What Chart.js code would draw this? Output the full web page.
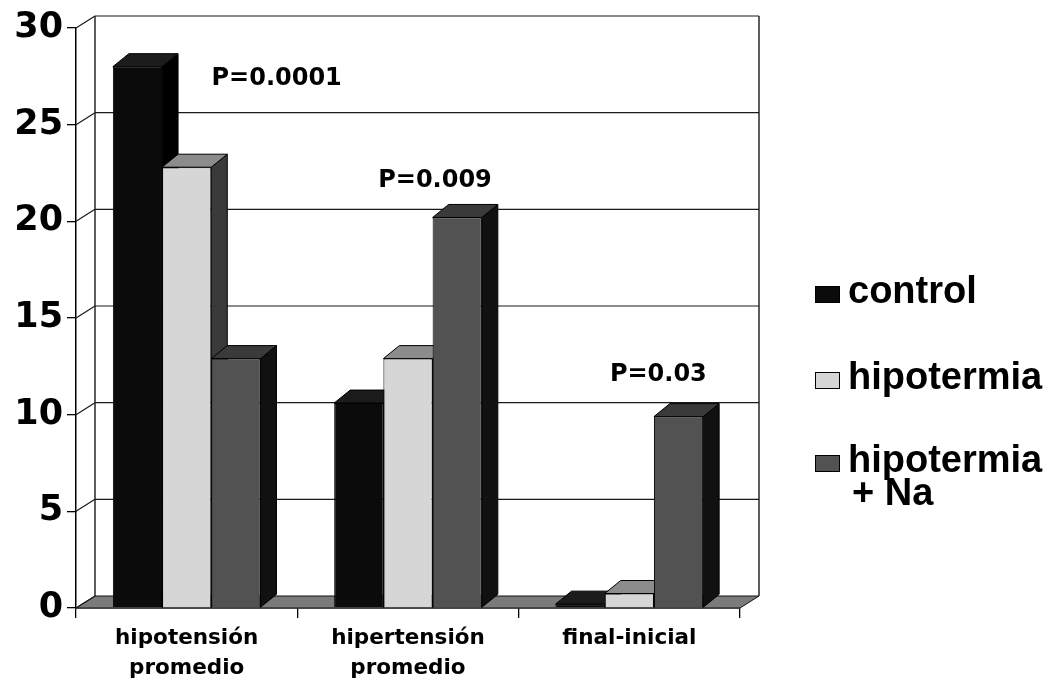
<!DOCTYPE html>
<html>
<head>
<meta charset="utf-8">
<script src="https://cdn.jsdelivr.net/npm/chart.js@4.4.1/dist/chart.umd.min.js"></script>
<style>
  html, body { margin: 0; padding: 0; background: #fff; }
  #wrap { width: 1050px; height: 680px; }
</style>
</head>
<body>
<div id="wrap"><canvas id="c" width="1050" height="680"></canvas></div>
<script>
// Categories and series
const categories = [['hipotensión', 'promedio'], ['hipertensión', 'promedio'], ['final-inicial']];
const seriesNames = ['control', 'hipotermia', 'hipotermia + Na'];
const controlValues = [28, 10.6, 0.2];
const hipotermiaValues = [22.8, 12.9, 0.75];
const hipotermiaNaValues = [12.9, 20.2, 9.9];
const pLabels = ['P=0.0001', 'P=0.009', 'P=0.03'];
const yMin = 0, yMax = 30, yStep = 5;

// Face colours per series: front, top, side
const faceColors = [
  { front: '#0b0b0b', top: '#1c1c1c', side: '#000000' },
  { front: '#d6d6d6', top: '#8c8c8c', side: '#3a3a3a' },
  { front: '#525252', top: '#3a3a3a', side: '#111111' }
];

// Depth offsets for the box walls and the columns
const WALL_DX = 19, WALL_DY = -12;
const BAR_DX = 16, BAR_DY = -13;

function poly(ctx, pts, fill, stroke) {
  ctx.beginPath();
  ctx.moveTo(pts[0][0], pts[0][1]);
  for (let i = 1; i < pts.length; i++) ctx.lineTo(pts[i][0], pts[i][1]);
  ctx.closePath();
  if (fill) { ctx.fillStyle = fill; ctx.fill(); }
  if (stroke) { ctx.strokeStyle = stroke; ctx.lineWidth = 1; ctx.stroke(); }
}

const depthPlugin = {
  id: 'depth3d',
  beforeDatasetsDraw(chart) {
    const { ctx, chartArea, scales } = chart;
    const { left, right, top, bottom } = chartArea;
    const y = scales.y;
    ctx.save();
    // floor
    poly(ctx, [[left, bottom], [right, bottom], [right + WALL_DX, bottom + WALL_DY], [left + WALL_DX, bottom + WALL_DY]], '#7b7b7b', '#111');
    // back wall grid lines and side-wall connectors
    ctx.strokeStyle = '#1a1a1a';
    ctx.lineWidth = 1.2;
    y.ticks.forEach(t => {
      const py = y.getPixelForValue(t.value);
      ctx.beginPath();
      if (t.value !== yMin) {
        ctx.moveTo(left + WALL_DX, py + WALL_DY);
        ctx.lineTo(right + WALL_DX, py + WALL_DY);
      }
      ctx.moveTo(left, py);
      ctx.lineTo(left + WALL_DX, py + WALL_DY);
      ctx.stroke();
    });
    // back wall edges
    ctx.lineWidth = 1.4;
    ctx.beginPath();
    ctx.moveTo(left + WALL_DX, top + WALL_DY);
    ctx.lineTo(left + WALL_DX, bottom + WALL_DY);
    ctx.moveTo(right + WALL_DX, top + WALL_DY);
    ctx.lineTo(right + WALL_DX, bottom + WALL_DY);
    ctx.stroke();

    // column tops and sides, drawn left to right so later fronts overlap
    const items = [];
    chart.data.datasets.forEach((ds, di) => {
      chart.getDatasetMeta(di).data.forEach(el => items.push({ el, di }));
    });
    items.sort((a, b) => a.el.x - b.el.x);
    items.forEach(({ el, di }) => {
      const w = el.width;
      const l = el.x - w / 2, r = el.x + w / 2;
      const ty = el.y, by = el.base;
      const c = faceColors[di];
      poly(ctx, [[r, ty], [r + BAR_DX, ty + BAR_DY], [r + BAR_DX, by + BAR_DY], [r, by]], c.side, '#000');
      poly(ctx, [[l, ty], [l + BAR_DX, ty + BAR_DY], [r + BAR_DX, ty + BAR_DY], [r, ty]], c.top, '#000');
    });
    ctx.restore();
  },
  afterDraw(chart) {
    const { ctx, scales } = chart;
    const x = scales.x, y = scales.y;
    ctx.save();
    // significance labels above each group
    const pOffsets = [[90, 27.4], [27, 22.1], [29, 12.05]];
    ctx.font = 'bold 24px "DejaVu Sans"';
    ctx.fillStyle = '#000';
    ctx.textAlign = 'center';
    ctx.textBaseline = 'middle';
    pLabels.forEach((txt, i) => {
      const px = x.getPixelForValue(i) + pOffsets[i][0];
      const py = y.getPixelForValue(pOffsets[i][1]);
      ctx.fillText(txt, px, py);
    });

    // legend on the right
    const boxX = 815, boxW = 25, boxH = 17, textX = 848;
    const rows = [
      { lines: ['control'], baseline: 303 },
      { lines: ['hipotermia'], baseline: 389 },
      { lines: ['hipotermia', '+ Na'], baseline: 472 }
    ];
    ctx.font = 'bold 38px "Liberation Sans"';
    ctx.textAlign = 'left';
    ctx.textBaseline = 'alphabetic';
    rows.forEach((row, i) => {
      const ds = chart.data.datasets[i];
      ctx.fillStyle = ds.backgroundColor;
      ctx.fillRect(boxX, row.baseline - boxH, boxW, boxH);
      ctx.strokeStyle = '#000';
      ctx.lineWidth = 1;
      ctx.strokeRect(boxX + 0.5, row.baseline - boxH + 0.5, boxW - 1, boxH - 1);
      ctx.fillStyle = '#000';
      row.lines.forEach((ln, j) => {
        ctx.fillText(j === 0 ? ds.label.split(' + ')[0] : ln, textX + (j ? 4 : 0), row.baseline + j * 33);
      });
    });
    ctx.restore();
  }
};

new Chart(document.getElementById('c'), {
  type: 'bar',
  data: {
    labels: categories,
    datasets: [
      { label: seriesNames[0], data: controlValues, backgroundColor: faceColors[0].front, borderColor: '#000', borderWidth: 1 },
      { label: seriesNames[1], data: hipotermiaValues, backgroundColor: faceColors[1].front, borderColor: '#000', borderWidth: 1 },
      { label: seriesNames[2], data: hipotermiaNaValues, backgroundColor: faceColors[2].front, borderColor: '#000', borderWidth: 1 }
    ]
  },
  options: {
    responsive: false,
    animation: false,
    layout: { padding: { top: 28, right: 310, left: 0, bottom: 0 } },
    datasets: { bar: { categoryPercentage: 0.667, barPercentage: 1.0 } },
    plugins: { legend: { display: false }, tooltip: { enabled: false } },
    scales: {
      x: {
        grid: { offset: true, drawOnChartArea: false, drawTicks: true, tickLength: 10, color: '#000', lineWidth: 1.3 },
        border: { display: true, color: '#000', width: 1.5 },
        ticks: { color: '#000', font: { family: 'DejaVu Sans', weight: 'bold', size: 21.5, lineHeight: 1.4 }, padding: 5, maxRotation: 0 },
        afterFit(scale) { scale.height = 72; }
      },
      y: {
        min: yMin, max: yMax,
        grid: { drawOnChartArea: false, drawTicks: true, tickLength: 9, color: '#000', lineWidth: 1.3 },
        border: { display: true, color: '#000', width: 1.5 },
        ticks: { stepSize: yStep, color: '#000', font: { family: 'DejaVu Sans', weight: 'bold', size: 35 }, padding: 4 },
        afterFit(scale) { scale.width = 76; }
      }
    }
  },
  plugins: [depthPlugin]
});
</script>
</body>
</html>
